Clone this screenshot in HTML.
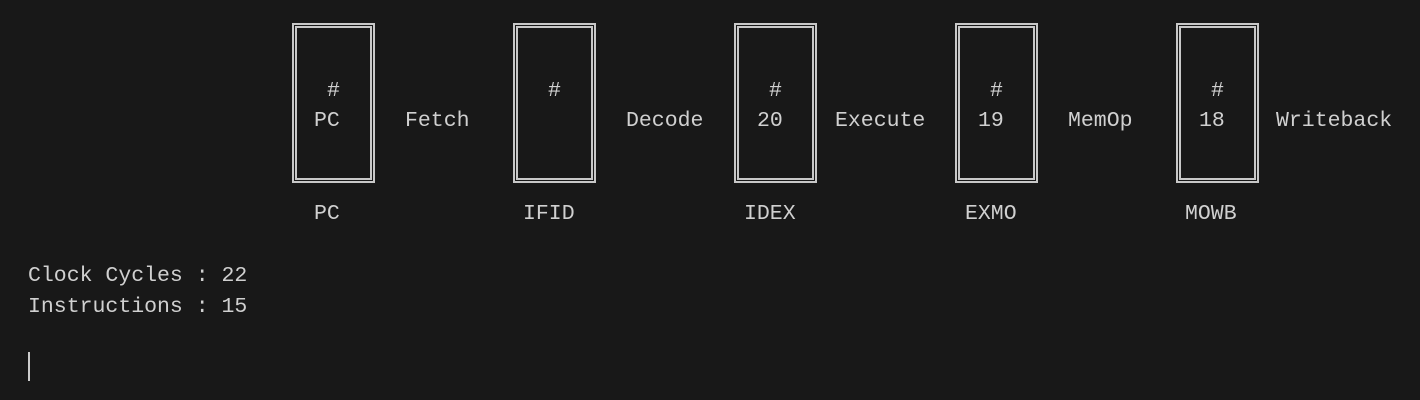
<!DOCTYPE html>
<html><head><style>
body{margin:0;width:1420px;height:400px;background:#181818;overflow:hidden;position:relative;font-family:"Liberation Mono",monospace;font-size:21.5px;color:#d0d0d0}
.t{position:absolute;line-height:24px;height:24px;white-space:pre}
.b{position:absolute;top:23px;width:79px;height:156px;border:2px solid #c8c8c8}
.b::after{content:"";position:absolute;left:1px;top:1px;right:1px;bottom:1px;border:2px solid #c8c8c8}
</style></head><body>
<div class="b" style="left:292px"></div>
<div class="b" style="left:513px"></div>
<div class="b" style="left:734px"></div>
<div class="b" style="left:955px"></div>
<div class="b" style="left:1176px"></div>

<div class="t" style="left:327px;top:79px">#</div>
<div class="t" style="left:548px;top:79px">#</div>
<div class="t" style="left:769px;top:79px">#</div>
<div class="t" style="left:990px;top:79px">#</div>
<div class="t" style="left:1211px;top:79px">#</div>

<div class="t" style="left:314px;top:109px">PC</div>
<div class="t" style="left:405px;top:109px">Fetch</div>
<div class="t" style="left:626px;top:109px">Decode</div>
<div class="t" style="left:757px;top:109px">20</div>
<div class="t" style="left:835px;top:109px">Execute</div>
<div class="t" style="left:978px;top:109px">19</div>
<div class="t" style="left:1068px;top:109px">MemOp</div>
<div class="t" style="left:1199px;top:109px">18</div>
<div class="t" style="left:1276px;top:109px">Writeback</div>

<div class="t" style="left:314px;top:202px">PC</div>
<div class="t" style="left:523px;top:202px">IFID</div>
<div class="t" style="left:744px;top:202px">IDEX</div>
<div class="t" style="left:965px;top:202px">EXMO</div>
<div class="t" style="left:1185px;top:202px">MOWB</div>

<div class="t" style="left:28px;top:264px">Clock Cycles : 22</div>
<div class="t" style="left:28px;top:295px">Instructions : 15</div>
<div style="position:absolute;left:28px;top:352px;width:2px;height:29px;background:#cccccc"></div>
</body></html>
